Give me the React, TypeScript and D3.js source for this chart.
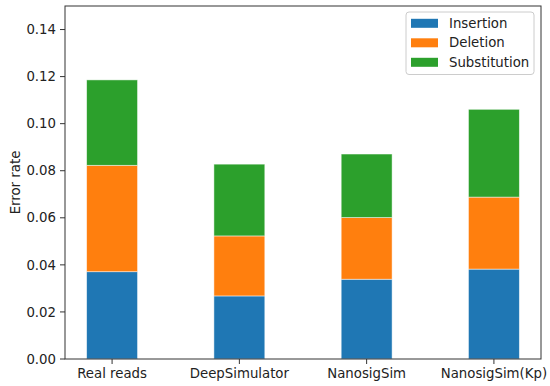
import React from 'react';
import * as d3 from 'd3';

const categories = ['Real reads', 'DeepSimulator', 'NanosigSim', 'NanosigSim(Kp)'];
const insertion = [0.0371, 0.0268, 0.0339, 0.0382];
const deletion = [0.0452, 0.0255, 0.0262, 0.0306];
const substitution = [0.0363, 0.0305, 0.027, 0.0373];
const seriesNames = ['Insertion', 'Deletion', 'Substitution'];
const seriesColors = ['#1f77b4', '#ff7f0e', '#2ca02c'];
const yTicks = [0, 0.02, 0.04, 0.06, 0.08, 0.1, 0.12, 0.14];

const width = 550;
const height = 386;
const left = 65;
const right = 541;
const top = 6;
const bottom = 359;
const font = '"DejaVu Sans", sans-serif';
const fs = 13.3;

export default function App() {
  const x = d3.scaleLinear().domain([-0.37, 3.37]).range([left, right]);
  const y = d3.scaleLinear().domain([0, 0.15]).range([bottom, top]);
  const barW = x(0.4) - x(0);

  const rows = categories.map((c, i) => ({
    cat: c,
    i,
    Insertion: insertion[i],
    Deletion: deletion[i],
    Substitution: substitution[i],
  }));
  const stack = d3.stack<any>().keys(seriesNames)(rows);

  return (
    <svg width={width} height={height} style={{ position: 'absolute', left: 0, top: 0 }}>
      <rect width={width} height={height} fill="#fff" />
      {stack.map((layer, si) => (
        <g key={layer.key} fill={seriesColors[si]}>
          {layer.map((d, i) => (
            <rect
              key={i}
              x={x(i) - barW / 2}
              y={y(d[1])}
              width={barW}
              height={y(d[0]) - y(d[1])}
              stroke="#fff"
              strokeOpacity={0.6}
              strokeWidth={0.8}
            />
          ))}
        </g>
      ))}
      <rect x={left} y={top} width={right - left} height={bottom - top} fill="none" stroke="#333" strokeWidth={1} />
      {yTicks.map((t) => (
        <g key={t} transform={`translate(${left},${y(t)})`}>
          <line x1={-5} x2={0} stroke="#333" />
          <text x={-9} dy="0.35em" textAnchor="end" fontFamily={font} fontSize={fs} fill="#222">
            {d3.format('.2f')(t)}
          </text>
        </g>
      ))}
      {categories.map((c, i) => (
        <g key={c} transform={`translate(${x(i)},${bottom})`}>
          <line y1={0} y2={5} stroke="#333" />
          <text y={14.5} dy="0.35em" textAnchor="middle" fontFamily={font} fontSize={fs} fill="#222">
            {c}
          </text>
        </g>
      ))}
      <text
        transform={`translate(15,${(top + bottom) / 2}) rotate(-90)`}
        textAnchor="middle"
        dy="0.35em"
        fontFamily={font}
        fontSize={fs}
        fill="#222"
      >
        Error rate
      </text>
      <g>
        <rect x={406} y={12} width={128} height={62.5} rx={3} fill="#fff" fillOpacity={0.8} stroke="#ccc" />
        {seriesNames.map((s, i) => (
          <g key={s} transform={`translate(411,${23.3 + i * 19.5})`}>
            <rect x={0} y={-4.5} width={27} height={9} fill={seriesColors[i]} />
            <text x={38} dy="0.35em" fontFamily={font} fontSize={fs} fill="#222">
              {s}
            </text>
          </g>
        ))}
      </g>
    </svg>
  );
}
